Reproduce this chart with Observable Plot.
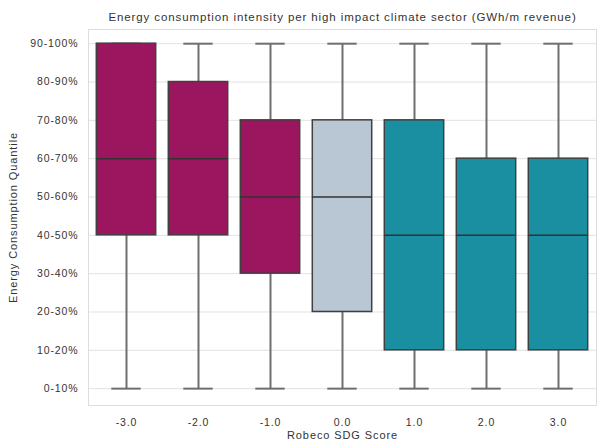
<!DOCTYPE html>
<html>
<head>
<meta charset="utf-8">
<script src="https://cdn.jsdelivr.net/npm/d3@7"></script>
<script src="https://cdn.jsdelivr.net/npm/@observablehq/plot@0.6"></script>
<style>
  html, body { margin: 0; padding: 0; background: #fff; }
  #chart { width: 597px; height: 447px; }
  #chart svg text { letter-spacing: 0.9px; }
</style>
</head>
<body>
<div id="chart"></div>
<script>
// Categories (Robeco SDG Score)
const scores = ["-3.0", "-2.0", "-1.0", "0.0", "1.0", "2.0", "3.0"];
// Quantile labels (index 0 = bottom)
const quantileLabels = ["0-10%", "10-20%", "20-30%", "30-40%", "40-50%", "50-60%", "60-70%", "70-80%", "80-90%", "90-100%"];
// Box statistics as quantile indices
const mins    = [0, 0, 0, 0, 0, 0, 0];
const q1s     = [4, 4, 3, 2, 1, 1, 1];
const medians = [6, 6, 5, 5, 4, 4, 4];
const q3s     = [9, 8, 7, 7, 7, 6, 6];
const maxs    = [9, 9, 9, 9, 9, 9, 9];
const boxColors = ["#9c165f", "#9c165f", "#9c165f", "#b9c6d3", "#1a8fa1", "#1a8fa1", "#1a8fa1"];

const rows = scores.map((s, i) => ({
  score: s, min: mins[i], q1: q1s[i], median: medians[i], q3: q3s[i], max: maxs[i], color: boxColors[i]
}));

const font = "'Liberation Sans', Arial, sans-serif";

const chart = Plot.plot({
  width: 597,
  height: 447,
  marginLeft: 88,
  marginRight: 1,
  marginTop: 29,
  marginBottom: 42,
  style: { fontFamily: font, fontSize: "10.5px", color: "#333", background: "#fff" },
  x: {
    type: "band", domain: scores, padding: 0,
    label: null, tickSize: 0, tickPadding: 13
  },
  y: {
    type: "linear", domain: [-0.44, 9.37],
    ticks: d3.range(0, 10), tickFormat: d => quantileLabels[d],
    label: null, tickSize: 0, tickPadding: 10
  },
  marks: [
    Plot.gridY(d3.range(0, 10), { stroke: "#e2e2e2", strokeOpacity: 1, strokeWidth: 1 }),
    Plot.frame({ stroke: "#dddddd", strokeWidth: 1 }),
    // whiskers
    Plot.ruleX(rows, { x: "score", y1: "min", y2: "q1", stroke: "#6e6e6e", strokeWidth: 2 }),
    Plot.ruleX(rows, { x: "score", y1: "q3", y2: "max", stroke: "#6e6e6e", strokeWidth: 2 }),
    // caps
    Plot.tickY(rows, { x: "score", y: "min", stroke: "#6e6e6e", strokeWidth: 2, insetLeft: 21.3, insetRight: 21.3 }),
    Plot.tickY(rows, { x: "score", y: "max", stroke: "#6e6e6e", strokeWidth: 2, insetLeft: 21.3, insetRight: 21.3 }),
    // boxes
    Plot.barY(rows, { x: "score", y1: "q1", y2: "q3", fill: d => d.color, stroke: "#404040", strokeWidth: 1.5, insetLeft: 6.3, insetRight: 6.3 }),
    // medians
    Plot.tickY(rows, { x: "score", y: "median", stroke: "#333333", strokeWidth: 1.5, insetLeft: 6.3, insetRight: 6.3 }),
    // title
    Plot.text(["Energy consumption intensity per high impact climate sector (GWh/m revenue)"], {
      frameAnchor: "top", dy: -17, fontSize: 11.5, fill: "#333", fontFamily: font
    }),
    // axis labels
    Plot.text(["Robeco SDG Score"], {
      frameAnchor: "bottom", dy: 33, fontSize: 11, fill: "#333", fontFamily: font
    }),
    Plot.text(["Energy Consumption Quantile"], {
      frameAnchor: "left", textAnchor: "middle", dx: -75, rotate: -90, fontSize: 11, fill: "#333", fontFamily: font
    })
  ]
});

document.getElementById("chart").appendChild(chart);
</script>
</body>
</html>
